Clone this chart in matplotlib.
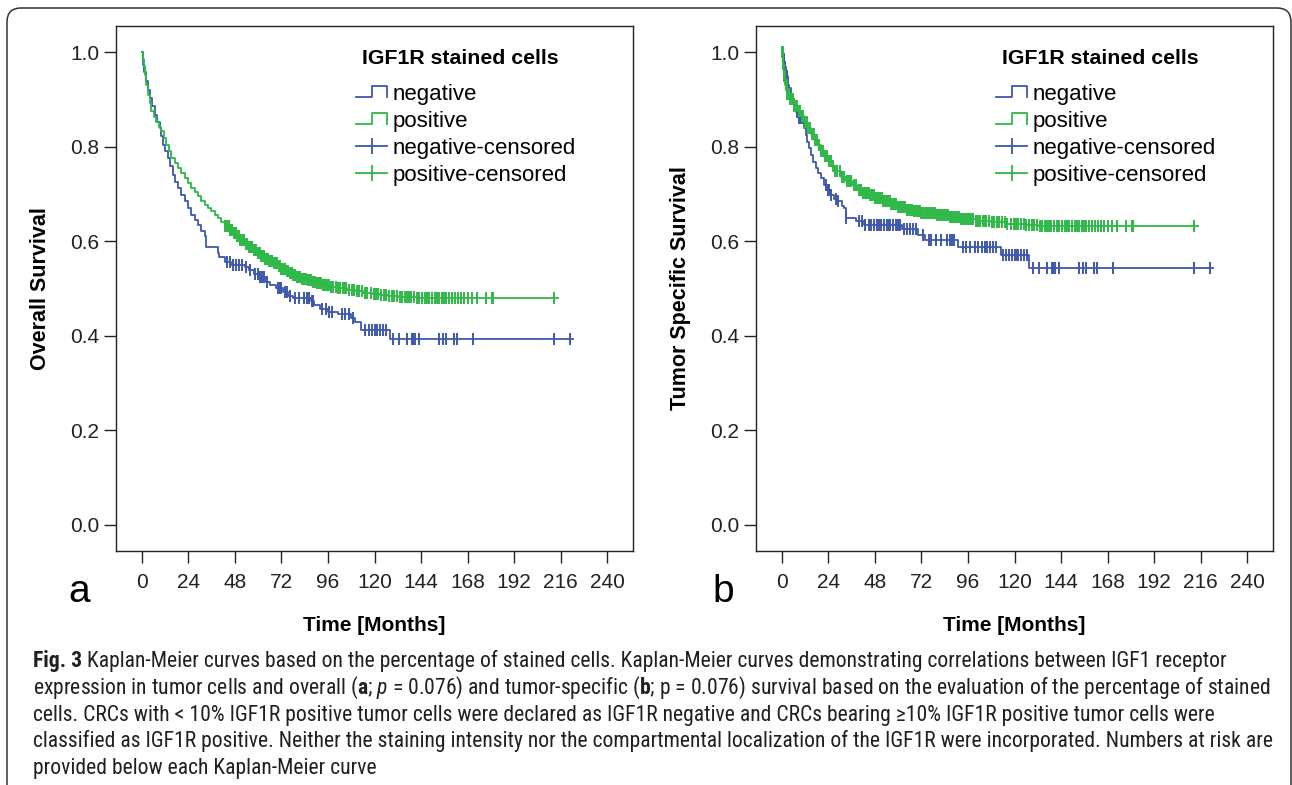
import matplotlib
matplotlib.use("Agg")
import matplotlib.pyplot as plt
import numpy as np
from matplotlib import font_manager
from matplotlib.lines import Line2D
from matplotlib.legend_handler import HandlerBase
from matplotlib.patches import FancyBboxPatch
from matplotlib.transforms import IdentityTransform

BLUE = "#3e58ac"
GREEN = "#2eb848"

x_ticks = [0, 24, 48, 72, 96, 120, 144, 168, 192, 216, 240]
y_ticks = [0.0, 0.2, 0.4, 0.6, 0.8, 1.0]
legend_title = "IGF1R stained cells"
legend_labels = ["negative", "positive", "negative-censored", "positive-censored"]

# ---- panel a: overall survival ----
neg_a_t = [0, 0.5, 1.2, 2.2, 3.1, 4.0, 5.2, 6.5, 7.8, 9.1, 10.0, 10.8, 12.1, 13.4, 14.7, 16.0,
           17.3, 18.6, 20.3, 22.0, 23.7, 25.5, 27.2, 28.9, 30.6, 32.4, 33, 39, 40, 43, 46, 53,
           55, 58, 61, 64, 66, 69, 73, 75.5, 78, 87, 89, 92, 96, 101, 108, 110, 113, 128]
neg_a_s = [1.0, 0.973, 0.958, 0.938, 0.920, 0.903, 0.885, 0.867, 0.853, 0.839, 0.822, 0.804,
           0.790, 0.776, 0.758, 0.741, 0.726, 0.712, 0.698, 0.684, 0.670, 0.656, 0.645, 0.635,
           0.622, 0.610, 0.588, 0.575, 0.566, 0.557, 0.550, 0.545, 0.539, 0.531, 0.524, 0.514,
           0.507, 0.501, 0.493, 0.484, 0.480, 0.474, 0.466, 0.456, 0.450, 0.446, 0.438, 0.430,
           0.413, 0.393]
neg_a_cens = [44, 45.5, 47, 48.5, 50, 51.5, 53.5, 56, 58.5, 60, 61, 62, 63, 64.5, 70, 71, 72,
              74, 75, 76.5, 79, 81, 83.5, 85, 86, 87.5, 88.5, 93, 95, 96.5, 98, 103, 105, 107,
              109, 115, 117, 118.5, 120, 121.5, 123, 124.5, 126, 129.7, 132.6, 136.9, 139.2,
              140, 141, 143, 153.3, 155.2, 156.9, 161, 162.4, 170.6, 212.6, 221]
neg_a_end = 222.5

pos_a_t = [0, 0.4, 0.8, 1.4, 2.2, 3.1, 4.0, 4.8, 6.0, 7.4, 8.7, 10.0, 11.3, 12.6, 13.9, 15.1,
           16.8, 18.6, 20.3, 22.0, 23.7, 25.5, 27.2, 28.9, 30.6, 32.4, 34.1, 35.8, 37.5, 39.2,
           41.0, 42.7, 45, 47, 48.8, 50.6, 52.8, 55, 57.1, 59.2, 61.3, 63.5, 65.6, 67.8, 70,
           72, 74, 76, 78, 79.8, 82.5, 85, 87.6, 90.2, 93.5, 97, 101, 105.6, 110, 114, 118.5,
           122.8, 127, 132, 137, 142]
pos_a_s = [1.0, 0.985, 0.970, 0.952, 0.930, 0.910, 0.892, 0.875, 0.863, 0.853, 0.842, 0.832,
           0.818, 0.804, 0.790, 0.776, 0.765, 0.755, 0.744, 0.734, 0.723, 0.712, 0.703, 0.695,
           0.686, 0.677, 0.670, 0.663, 0.656, 0.649, 0.640, 0.632, 0.624, 0.617, 0.610, 0.603,
           0.595, 0.588, 0.581, 0.574, 0.568, 0.563, 0.558, 0.553, 0.547, 0.542, 0.537, 0.533,
           0.529, 0.525, 0.521, 0.517, 0.514, 0.511, 0.507, 0.503, 0.500, 0.497, 0.494, 0.491,
           0.488, 0.486, 0.484, 0.483, 0.481, 0.480]
pos_a_cens = [43, 43.5, 44, 44.8, 45.5, 46, 46.7, 47.5, 48, 48.6, 49.3, 50, 50.8, 51.5, 52,
              52.7, 53.5, 54.2, 55, 55.6, 56.3, 57, 57.8, 58.5, 59.1, 60, 60.7, 61.4, 62, 62.8,
              63.6, 64.3, 65, 65.8, 66.5, 67.3, 68, 68.9, 69.7, 70.5, 71.2, 72, 73, 73.8, 74.6,
              75.5, 76.4, 77.3, 78, 79, 80, 81, 81.8, 82.7, 83.5, 84.6, 85.5, 86.5, 87.3, 88.4,
              89.5, 90.5, 91.4, 92.5, 93.6, 94.5, 95.5, 96.7, 97.6, 98.8, 100, 101, 102.2,
              103.5, 104.6, 105.5, 107, 108.2, 109.5, 110.8, 112, 113.5, 115, 116.3, 118,
              119.5, 121, 122, 123.5, 125, 126, 127.5, 129, 130, 131.5, 133, 134, 135.5, 137,
              138, 139, 140.5, 142, 143, 144.5, 146, 147, 148, 149.5, 151, 152.5, 153.5, 155,
              156, 157, 158.5, 160, 161.5, 163, 164.5, 166, 168, 170.2, 173, 177.5, 180.5,
              181.3, 212.6]
pos_a_end = 214.7

# ---- panel b: tumor specific survival ----
neg_b_t = [0, 0.5, 1, 2, 3, 3.6, 4.5, 5.2, 6.2, 7.5, 8.8, 10, 11.4, 12.2, 13.1, 14, 14.8, 16,
           17.4, 18.5, 20, 21.7, 23, 25, 27, 28.6, 31, 32.1, 33, 38, 42.4, 62, 70, 74, 91,
           113, 127.5]
neg_b_s = [1.0, 0.985, 0.968, 0.950, 0.930, 0.923, 0.910, 0.900, 0.888, 0.873, 0.860, 0.850,
           0.839, 0.825, 0.810, 0.796, 0.782, 0.768, 0.754, 0.744, 0.733, 0.719, 0.708, 0.698,
           0.690, 0.684, 0.675, 0.670, 0.649, 0.642, 0.635, 0.625, 0.614, 0.603, 0.587, 0.570,
           0.544]
neg_b_cens = [0.8, 1.5, 2.5, 8, 8.8, 9.5, 22.5, 23.5, 24.5, 25.5, 28, 29, 33, 40, 41.5, 43,
              45, 46, 47.5, 49, 50, 51, 52.5, 54, 55, 56, 57.5, 59, 60, 61, 63, 64.5, 66, 67.5,
              69, 73, 76, 77, 79.5, 82, 85, 86.5, 88, 89, 93.5, 95, 97, 99.5, 101, 103, 105,
              106, 107.5, 109, 110.5, 114, 115.5, 117, 118.5, 120, 121, 122, 123.5, 125, 126.5,
              129.7, 132.6, 136.9, 139.2, 140, 141, 143, 153.3, 155.2, 156.9, 161, 162.4,
              170.6, 212.6, 221]
neg_b_end = 222.5

pos_b_t = [0, 0.5, 1, 1.8, 2.7, 4, 6.2, 8, 9.7, 11.5, 13.1, 15, 16.7, 18.3, 20, 21.7, 23.4,
           25.5, 27.5, 30.3, 33, 36, 38.9, 42, 45, 48, 52, 56.2, 60, 64, 68, 72, 79.5, 86, 92,
           100, 108, 116, 126, 132]
pos_b_s = [1.0, 0.975, 0.950, 0.930, 0.912, 0.900, 0.885, 0.875, 0.864, 0.852, 0.840, 0.826,
           0.814, 0.803, 0.791, 0.780, 0.769, 0.758, 0.748, 0.736, 0.727, 0.718, 0.709, 0.702,
           0.697, 0.692, 0.685, 0.678, 0.672, 0.667, 0.663, 0.660, 0.656, 0.651, 0.647, 0.643,
           0.640, 0.637, 0.634, 0.632]
pos_b_cens_early = [0.2, 0.4, 0.7, 1.0, 1.3, 1.6, 2.0, 2.4, 2.8, 3.3, 3.8, 4.4, 5.0, 5.7, 6.4,
                    7.1, 7.8, 8.6, 9.4, 10.2, 11.0, 11.9, 12.8, 13.6, 14.5, 15.4, 16.3, 17.2,
                    18.1, 19.0, 20.0, 21.0, 22.0, 23.1, 24.2, 25.3, 26.4, 27.5, 28.6, 29.8,
                    31.0, 32.2, 33.4, 34.6, 35.8, 37.0, 38.3, 39.6, 40.9, 42.0]
pos_b_cens = pos_b_cens_early + pos_a_cens
pos_b_end = 214.7

caption_head = "Fig. 3"
caption_lines = [
    "Kaplan-Meier curves based on the percentage of stained cells. Kaplan-Meier curves demonstrating correlations between IGF1 receptor",
    r"expression in tumor cells and overall ($\mathbf{a}$; $\mathit{p}$ = 0.076) and tumor-specific ($\mathbf{b}$; p = 0.076) survival based on the evaluation of the percentage of stained",
    "cells. CRCs with < 10% IGF1R positive tumor cells were declared as IGF1R negative and CRCs bearing \u226510% IGF1R positive tumor cells were",
    "classified as IGF1R positive. Neither the staining intensity nor the compartmental localization of the IGF1R were incorporated. Numbers at risk are",
    "provided below each Kaplan-Meier curve",
]

W, H = 1292, 785
plt.rcParams["font.family"] = ["Liberation Sans", "DejaVu Sans"]

installed = {f.name for f in font_manager.fontManager.ttflist}
narrow = next((f for f in ["Liberation Sans Narrow", "DejaVu Sans Condensed", "Roboto Condensed"]
               if f in installed), "Liberation Sans")
plt.rcParams["mathtext.fontset"] = "custom"
plt.rcParams["mathtext.rm"] = narrow
plt.rcParams["mathtext.it"] = narrow + ":italic"
plt.rcParams["mathtext.bf"] = narrow + ":bold"


class StepHandler(HandlerBase):
    def create_artists(self, legend, orig_handle, xdescent, ydescent, width, height,
                       fontsize, trans):
        x0 = -xdescent
        x1 = x0 + width
        xm = (x0 + x1) / 2
        lo = -ydescent + 0.2 * height
        hi = -ydescent + 0.88 * height
        ln = Line2D([x0, xm, xm, x1, x1], [lo, lo, hi, hi, lo], color=orig_handle.get_color(),
                    lw=orig_handle.get_linewidth(), transform=trans)
        return [ln]


def km(ax, t, s, cens, end, color):
    t = np.asarray(t, dtype=float)
    s = np.asarray(s, dtype=float)
    ax.step(np.append(t, end), np.append(s, s[-1]), where="post", color=color, lw=1.3)
    c = np.asarray(cens, dtype=float)
    cy = s[np.searchsorted(t, c, side="right") - 1]
    ax.plot(c, cy, ls="none", marker="|", ms=8, mew=1.4, color=color)


def px_box(l, t, r, b):
    return [l / W, 1 - b / H, (r - l) / W, (b - t) / H]


fig = plt.figure(figsize=(W / 100, H / 100), dpi=100)
ax_a = fig.add_axes(px_box(116, 26, 633, 551))
ax_b = fig.add_axes(px_box(756, 26, 1273, 551))

panels = [
    (ax_a, "Overall Survival", "a", 68,
     (neg_a_t, neg_a_s, neg_a_cens, neg_a_end), (pos_a_t, pos_a_s, pos_a_cens, pos_a_end)),
    (ax_b, "Tumor Specific Survival", "b", 712,
     (neg_b_t, neg_b_s, neg_b_cens, neg_b_end), (pos_b_t, pos_b_s, pos_b_cens, pos_b_end)),
]

for ax, ylab, letter, letter_x, neg, pos in panels:
    km(ax, *neg, BLUE)
    km(ax, *pos, GREEN)
    ax.set_xlim(-13.4, 253.4)
    ax.set_ylim(-0.055, 1.055)
    ax.set_xticks(x_ticks)
    ax.set_yticks(y_ticks)
    ax.set_yticklabels([f"{v:.1f}" for v in y_ticks])
    ax.tick_params(direction="out", length=8.6, width=1, labelsize=15, colors="#222222")
    ax.tick_params(axis="x", pad=7.6)
    ax.tick_params(axis="y", pad=3.2)
    for sp in ax.spines.values():
        sp.set_linewidth(1.0)
        sp.set_color("#222222")
    ax.set_ylabel(ylab, fontsize=15.5, fontweight="bold")
    ax.yaxis.set_label_coords(-0.1257, 0.5)
    ax.set_xlabel("Time [Months]", fontsize=15, fontweight="bold")
    ax.xaxis.set_label_coords(0.5, -0.124)

    ax.text(0.6654, 0.939, legend_title, transform=ax.transAxes, ha="center", va="center",
            fontsize=15.3, fontweight="bold")
    h_neg = Line2D([], [], color=BLUE, lw=1.3)
    h_pos = Line2D([], [], color=GREEN, lw=1.3)
    h_negc = Line2D([], [], color=BLUE, lw=1.3, marker="|", ms=11.5, mew=1.3)
    h_posc = Line2D([], [], color=GREEN, lw=1.3, marker="|", ms=11.5, mew=1.3)
    ax.legend([h_neg, h_pos, h_negc, h_posc], legend_labels, loc="upper left",
              bbox_to_anchor=(0.464, 0.89), frameon=False, fontsize=16, numpoints=1,
              handler_map={h_neg: StepHandler(), h_pos: StepHandler()},
              handlelength=1.41, handletextpad=0.23, labelspacing=0.27,
              borderpad=0, borderaxespad=0)

    fig.text(letter_x / W, 1 - 602 / H, letter, fontsize=28, ha="left", va="baseline")

# caption, sized so the long second line spans its width in the reference
renderer = fig.canvas.get_renderer()
cap_kw = dict(ha="left", va="baseline", color="#231f20", family=[narrow, "DejaVu Sans"])
cap_texts = []
for i, line in enumerate(caption_lines):
    txt = fig.text(33 / W, 1 - (667 + 26.8 * i) / H, line, fontsize=12, **cap_kw)
    cap_texts.append(txt)
w2 = cap_texts[1].get_window_extent(renderer).width
size = 12 * 1237 / w2
for txt in cap_texts:
    txt.set_fontsize(size)

# bold "Fig. 3" lead-in, first line shifted right after it
head = fig.text(33 / W, 1 - 667 / H, caption_head, fontsize=size, weight="bold", **cap_kw)
probe1 = fig.text(0, 0, "x x", fontsize=size, **cap_kw)
probe2 = fig.text(0, 0, "xx", fontsize=size, **cap_kw)
space = probe1.get_window_extent(renderer).width - probe2.get_window_extent(renderer).width
probe1.remove()
probe2.remove()
head_w = head.get_window_extent(renderer).width
cap_texts[0].set_x((33 + head_w + space) / W)

border = FancyBboxPatch((7, -30), 1284, 807, boxstyle="round,pad=0,rounding_size=14",
                        transform=IdentityTransform(), fill=False, ec="#333333", lw=1.1)
fig.add_artist(border)

fig.savefig("out.png", dpi=100)
